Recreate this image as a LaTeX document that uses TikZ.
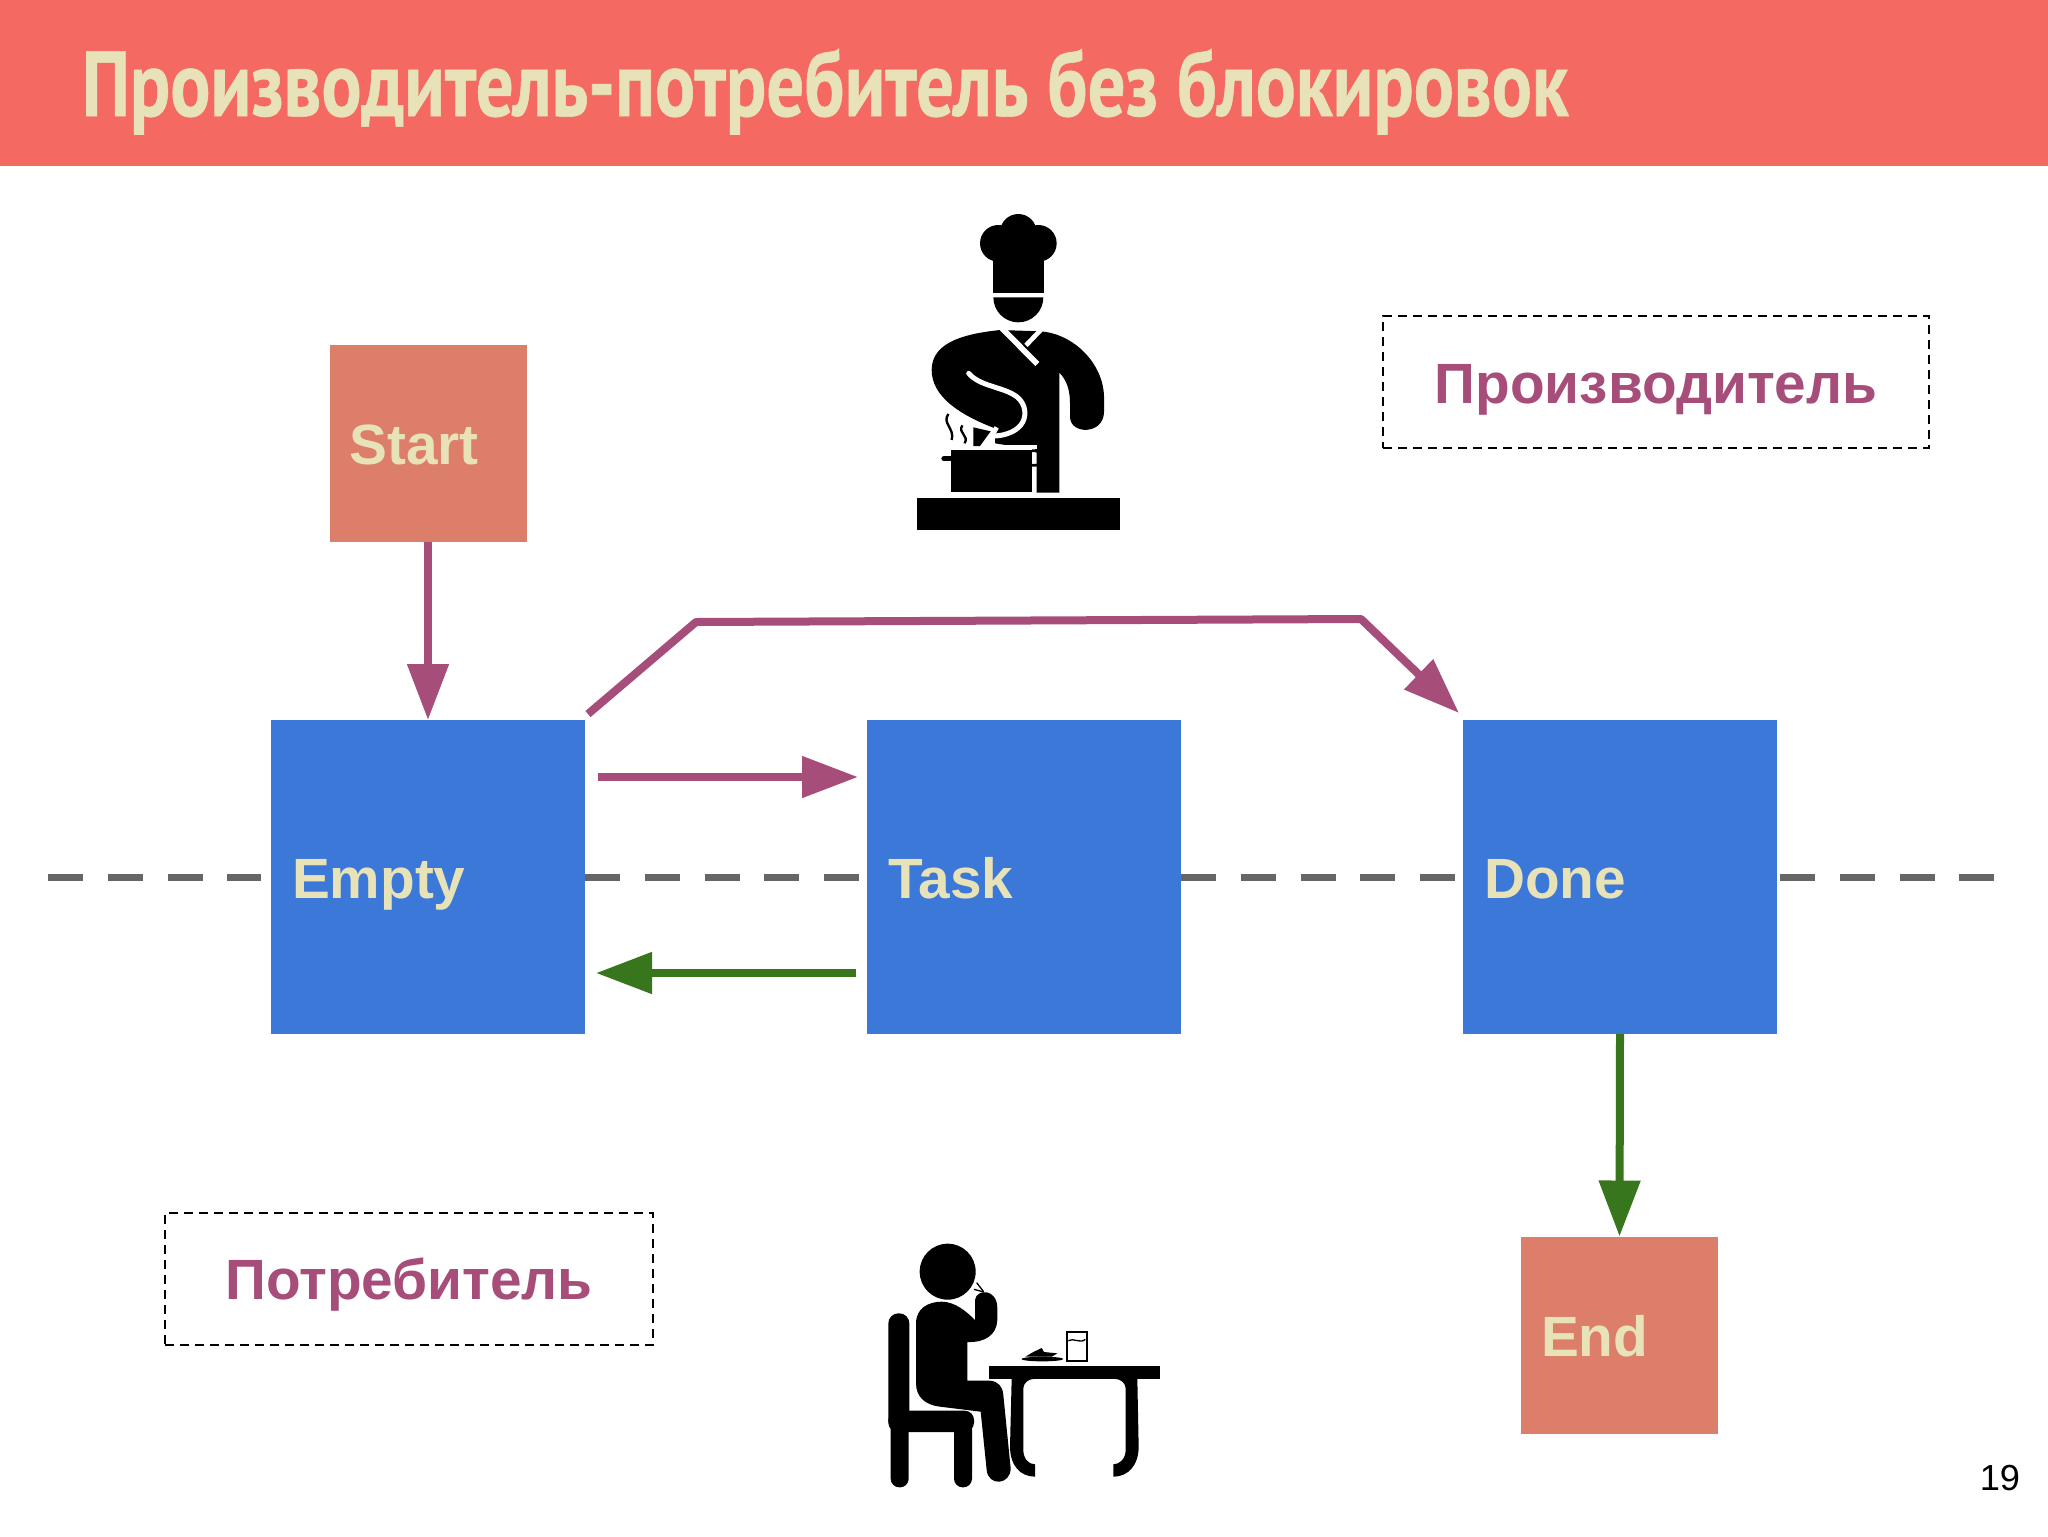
\documentclass[tikz,border=0pt]{standalone}
\usepackage{fontspec}
\setmainfont{Liberation Sans}
\newfontfamily\titlefont[FakeStretch=0.81,BoldFeatures={FakeBold=0.6}]{PT Sans}
\usetikzlibrary{arrows.meta,calc}
\definecolor{hdr}{HTML}{F46A63}
\definecolor{cream}{HTML}{E8E2B8}
\definecolor{bluebx}{HTML}{3C78D8}
\definecolor{salmon}{HTML}{DD7E6B}
\definecolor{plum}{HTML}{A64D79}
\definecolor{grn}{HTML}{38761D}
\definecolor{gry}{HTML}{666666}
\newcommand{\bodyfnt}{\fontsize{32.3pt}{36pt}\bfseries\selectfont}
\tikzset{
  every node/.style={inner sep=0pt,outer sep=0pt},
  tbox/.style={rectangle,align=left,text=cream,font=\bodyfnt,text height=60*0.2mm,text depth=18*0.2mm},
  bluenode/.style={tbox,fill=bluebx,minimum width=314*0.2mm,minimum height=314*0.2mm,text width=272*0.2mm},
  salnode/.style={tbox,fill=salmon,minimum width=197*0.2mm,minimum height=197*0.2mm,text width=157*0.2mm},
  rolebox/.style={rectangle,draw=black,line width=0.5mm*0.9,dash pattern=on 1.8mm off 1.2mm,minimum height=132*0.2mm},
  rolelabel/.style={text=plum,font=\bodyfnt},
  conn/.style={line width=1.6mm,-{Triangle[length=11.2mm,width=8mm]}},
  midline/.style={gry,line width=1.4mm,dash pattern=on 7mm off 4.95mm},
  gapline/.style={draw=white,line cap=round},
  icon/.style={x=0.2mm/3,y=-0.2mm/3}
}
\begin{document}
\begin{tikzpicture}[x=0.2mm,y=-0.2mm]
\useasboundingbox (0,0) rectangle (2048,1536);
\fill[white] (0,0) rectangle (2048,1536);
\fill[hdr] (0,0) rectangle (2048,166);
\node[anchor=base west,text=cream,font={\titlefont\fontsize{52.6pt}{60pt}\bfseries\selectfont}] (title) at (82,116) {Производитель-потребитель без блокировок};

\coordinate (lineL) at (48,877);
\coordinate (lineR) at (1994,877);

\node[bluenode] (empty) at (428,877) {Empty};
\node[bluenode] (task) at (1024,877) {Task};
\node[bluenode] (done) at (1620,877) {Done};
\node[salnode] (start) at (428,443) {Start};
\node[salnode] (end) at (1619.5,1335) {End};

\draw[midline] (lineL) -- ($(empty.west)+(-10,0)$);
\draw[midline] (empty.east) -- ($(task.west)+(-7,0)$);
\draw[midline] (task.east) -- ($(done.west)+(-7,0)$);
\draw[midline] ($(done.east)+(3,0)$) -- (lineR);

\node[rolebox,minimum width=546*0.2mm] (prod) at (1656,382) {};
\node[rolelabel,anchor=base] (prodt) at (1656,403) {Производитель};
\node[rolebox,minimum width=488*0.2mm] (cons) at (409,1279) {};
\node[rolelabel,anchor=base] (const) at (409,1299) {Потребитель};
\node[anchor=base east,font=\fontsize{20.6pt}{24pt}\selectfont] (num) at (2020,1490) {19};

\draw[conn,plum] (start.south) -- (empty.north);
\coordinate (a1) at ($(empty.north east)+(3,-6)$);
\coordinate (a2) at (696,622);
\coordinate (a3) at (1361,619);
\coordinate (a4) at ($(done.north west)+(-4,-7)$);
\draw[conn,plum,line join=round] (a1) -- (a2) -- (a3) -- (a4);
\coordinate (b1) at ($(empty.east)+(13,-100)$);
\coordinate (b2) at ($(task.west)+(-9,-100)$);
\draw[conn,plum] (b1) -- (b2);
\coordinate (c1) at ($(task.west)+(-11,96)$);
\coordinate (c2) at ($(empty.east)+(11,96)$);
\draw[conn,grn] (c1) -- (c2);
\draw[conn,grn] (done.south) -- (end.north);

% chef
\begin{scope}[shift={(880,190)},icon]
  \fill (355,160) circle (55);
  \fill (415,127) circle (55);
  \fill (475,160) circle (55);
  \fill (338,160) rectangle (492,310);
  \fill (340,322) arc[start angle=180,end angle=0,x radius=75,y radius=75] -- cycle;
  \fill (360,420) .. controls (270,430) and (155,450) .. (155,540)
     .. controls (155,620) and (240,675) .. (345,715)
     -- (345,760) -- (470,780) -- (470,908) -- (538,908) -- (538,548)
     .. controls (560,570) and (570,600) .. (570,640) -- (570,680)
     .. controls (570,735) and (672,735) .. (672,665) -- (672,620)
     .. controls (670,520) and (580,430) .. (480,424) -- cycle;
  \fill (280,712) -- (332,724) -- (300,768) -- (280,768) -- cycle;
  \draw[gapline,line width=17*0.2mm/3,line cap=butt] (365,414) -- (472,522);
  \draw[gapline,line width=14*0.2mm/3,line cap=butt] (482,420) -- (438,466);
  \draw[gapline,line width=15*0.2mm/3] (266,550) .. controls (300,590) and (370,590) .. (410,620)
      .. controls (450,650) and (450,730) .. (345,738);
  \draw[gapline,line width=14*0.2mm/3,line cap=butt] (350,712) -- (312,782);
  \draw[gapline,line width=10*0.2mm/3,line cap=butt] (335,771) -- (470,771);
  \fill[white] (205,774) rectangle (466,912);
  \fill (212,780) rectangle (456,905);
  \draw[line width=16*0.2mm/3,line cap=round] (192,806) -- (212,806);
  \draw[line width=8*0.2mm/3] (456,782) .. controls (505,782) and (505,828) .. (456,826);
  \draw[line width=7*0.2mm/3] (205,672) .. controls (185,700) and (225,715) .. (215,750);
  \draw[line width=7*0.2mm/3] (247,706) .. controls (232,730) and (268,735) .. (254,760);
  \fill (110,925) rectangle (720,1020);
\end{scope}

% diner
\begin{scope}[shift={(860,1220)},icon]
  \fill (263,155) circle (84);
  \fill (168,310) .. controls (168,265) and (205,245) .. (245,245)
     .. controls (285,245) and (320,275) .. (345,300)
     -- (345,240) .. controls (350,205) and (412,205) .. (412,265)
     -- (412,300) .. controls (410,345) and (375,368) .. (322,366)
     -- (322,482) -- (390,482) .. controls (415,484) and (428,500) .. (430,525)
     -- (452,745) .. controls (452,795) and (385,800) .. (380,750)
     -- (362,575) -- (240,560) .. controls (195,555) and (168,530) .. (168,490) -- cycle;
  \draw[line width=4*0.2mm/3] (342,208) -- (372,216);
  \draw[line width=4*0.2mm/3] (350,188) -- (370,214);
  \fill[rounded corners=30*0.2mm/3] (85,280) rectangle (148,632);
  \fill[rounded corners=28*0.2mm/3] (85,572) rectangle (342,636);
  \fill[rounded corners=26*0.2mm/3] (92,600) rectangle (146,802);
  \fill[rounded corners=26*0.2mm/3] (282,600) rectangle (336,802);
  \fill (386,437) rectangle (900,477);
  \fill (455,477) -- (450,680) .. controls (450,735) and (480,770) .. (525,770) -- (525,733)
     .. controls (505,733) and (490,715) .. (490,690) -- (490,505) .. controls (490,490) and (505,477) .. (520,477) -- cycle;
  \fill (832,477) -- (836,680) .. controls (836,735) and (805,770) .. (760,770) -- (760,733)
     .. controls (780,733) and (797,715) .. (797,690) -- (797,505) .. controls (797,490) and (782,477) .. (767,477) -- cycle;
  \draw[line width=5*0.2mm/3] (620,335) rectangle (680,422);
  \draw[line width=4*0.2mm/3] (625,362) .. controls (640,352) and (660,372) .. (676,358);
  \fill (547,417) ellipse (63 and 7);
  \fill (496,410) -- (520,396) -- (545,384) -- (552,396) -- (592,400) -- (575,410) -- cycle;
\end{scope}
\end{tikzpicture}
\end{document}
